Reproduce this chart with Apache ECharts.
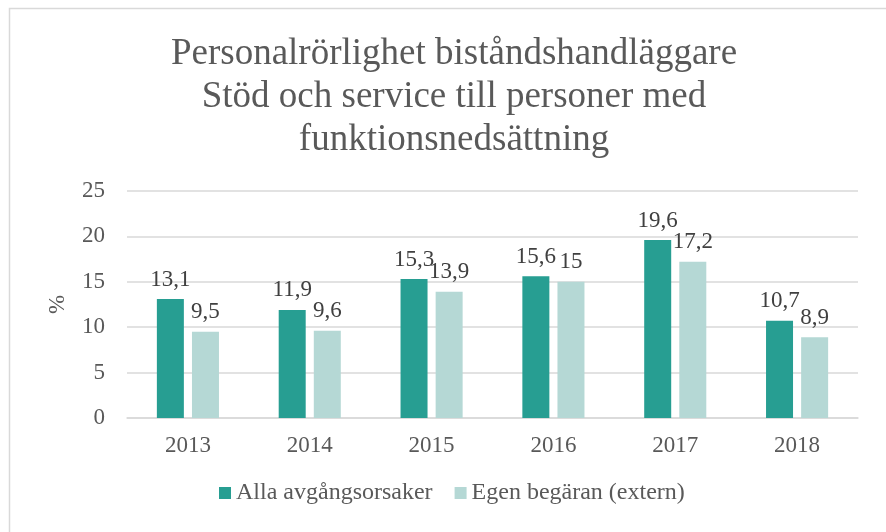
<!DOCTYPE html>
<html>
<head>
<meta charset="utf-8">
<script src="https://cdn.jsdelivr.net/npm/echarts@6/dist/echarts.min.js"></script>
<style>
html,body{margin:0;padding:0;background:#fff;}
#c{width:886px;height:532px;}
</style>
</head>
<body>
<div id="c"></div>
<script>
const categories = ['2013','2014','2015','2016','2017','2018'];
const allaAvgang = [13.1, 11.9, 15.3, 15.6, 19.6, 10.7];
const egenBegaran = [9.5, 9.6, 13.9, 15, 17.2, 8.9];
const seriesNames = ['Alla avgångsorsaker', 'Egen begäran (extern)'];
const yTicks = [0, 5, 10, 15, 20, 25];

const font = '"Liberation Serif", "Times New Roman", serif';
const fmt = p => String(p.value).replace('.', ',');

const chart = echarts.init(document.getElementById('c'), null, {renderer: 'canvas'});
chart.setOption({
  animation: false,
  backgroundColor: '#fff',
  textStyle: {fontFamily: font},
  graphic: [{
    type: 'rect',
    shape: {x: 9.5, y: 8.5, width: 1000, height: 700},
    style: {fill: 'none', stroke: '#d9d9d9', lineWidth: 1.5},
    silent: true
  }],
  title: {
    text: 'Personalrörlighet biståndshandläggare\nStöd och service till personer med\nfunktionsnedsättning',
    left: 449,
    textAlign: 'center',
    top: 28,
    textStyle: {fontFamily: font, fontSize: 37, fontWeight: 'normal', color: '#595959', lineHeight: 43}
  },
  legend: {
    bottom: 22,
    left: 214,
    itemWidth: 12,
    itemHeight: 12,
    itemGap: 22,
    icon: 'rect',
    textStyle: {fontFamily: font, fontSize: 24, color: '#595959'},
    data: seriesNames
  },
  grid: {left: 127, right: 28, top: 191, bottom: 114},
  xAxis: {
    type: 'category',
    data: categories,
    axisLine: {lineStyle: {color: '#d9d9d9', width: 1.5}},
    axisTick: {show: false},
    axisLabel: {fontFamily: font, fontSize: 23, color: '#595959', margin: 16}
  },
  yAxis: {
    type: 'value',
    min: yTicks[0],
    max: yTicks[yTicks.length - 1],
    interval: 5,
    name: '%',
    nameLocation: 'middle',
    nameGap: 58,
    nameRotate: 90,
    nameTextStyle: {fontFamily: font, fontSize: 23, color: '#595959'},
    axisLine: {show: false},
    axisTick: {show: false},
    splitLine: {lineStyle: {color: '#d9d9d9', width: 1.5}},
    axisLabel: {fontFamily: font, fontSize: 23, color: '#595959', margin: 22}
  },
  series: [
    {
      name: seriesNames[0],
      type: 'bar',
      data: allaAvgang,
      barWidth: 27,
      barGap: '30%',
      itemStyle: {color: '#279e92'},
      label: {show: true, position: 'top', distance: 8, formatter: fmt, fontFamily: font, fontSize: 23, color: '#404040'}
    },
    {
      name: seriesNames[1],
      type: 'bar',
      data: egenBegaran,
      barWidth: 27,
      itemStyle: {color: '#b5d8d5'},
      label: {show: true, position: 'top', distance: 8, formatter: fmt, fontFamily: font, fontSize: 23, color: '#404040'}
    }
  ]
});
</script>
</body>
</html>
